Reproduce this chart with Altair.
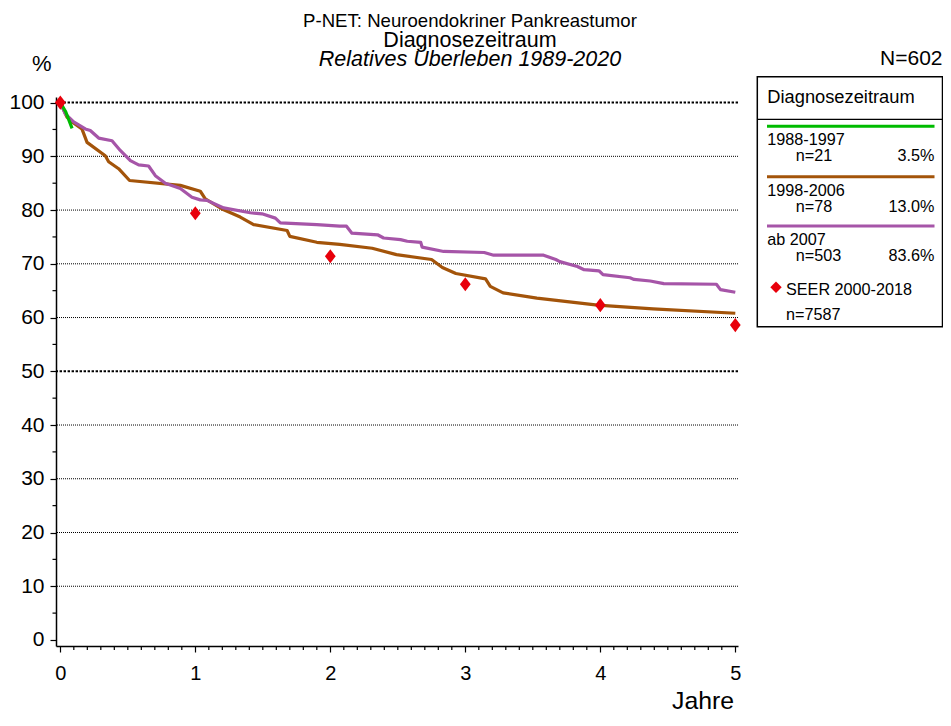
import altair as alt
import pandas as pd

FONT = "Liberation Sans"

# ---- data -------------------------------------------------------------
grp1_t = [0.0, 0.04, 0.087]
grp1_v = [100.0, 98.3, 95.2]

grp2_t = [0.0, 0.049, 0.087, 0.16, 0.198, 0.333, 0.358, 0.432, 0.513, 0.889,
          1.037, 1.074, 1.198, 1.333, 1.432, 1.68, 1.70, 1.90, 2.07, 2.31,
          2.49, 2.75, 2.83, 2.93, 3.15, 3.185, 3.28, 3.53, 3.98, 4.39, 5.0]
grp2_v = [100.0, 97.3, 96.4, 95.1, 92.6, 90.1, 89.0, 87.7, 85.5, 84.6,
          83.5, 82.1, 80.2, 78.7, 77.3, 76.2, 75.1, 74.0, 73.6, 72.9,
          71.7, 70.8, 69.3, 68.2, 67.2, 65.8, 64.6, 63.6, 62.3, 61.6, 60.8]

grp3_t = [0.0, 0.037, 0.099, 0.185, 0.222, 0.284, 0.383, 0.444, 0.519, 0.58,
          0.654, 0.704, 0.778, 0.889, 0.975, 1.037, 1.087, 1.21, 1.407, 1.494,
          1.593, 1.63, 1.90, 2.07, 2.12, 2.16, 2.35, 2.395, 2.52, 2.57,
          2.67, 2.68, 2.84, 3.14, 3.21, 3.58, 3.67, 3.70, 3.83, 3.88,
          3.99, 4.02, 4.22, 4.25, 4.37, 4.47, 4.86, 4.89, 5.0]
grp3_v = [100.0, 97.9, 96.4, 95.1, 94.8, 93.4, 92.9, 91.1, 89.2, 88.4,
          88.2, 86.4, 85.0, 84.0, 82.4, 81.9, 81.8, 80.4, 79.5, 79.3,
          78.5, 77.6, 77.3, 77.0, 77.0, 75.7, 75.4, 74.8, 74.5, 74.2,
          74.0, 73.1, 72.3, 72.1, 71.6, 71.6, 70.8, 70.4, 69.5, 68.9,
          68.7, 68.0, 67.4, 67.1, 66.8, 66.3, 66.2, 65.2, 64.7]

seer_t = [0, 1, 2, 3, 4, 5]
seer_v = [100.0, 79.4, 71.4, 66.2, 62.3, 58.6]

groups = ["1988-1997", "1998-2006", "ab 2007"]
group_n = ["n=21", "n=78", "n=503"]
group_pct = ["3.5%", "13.0%", "83.6%"]
colors = ["#00bb00", "#a3540a", "#a655a8"]

grid_thin = [10, 20, 30, 40, 60, 70, 80, 90]
grid_bold = [50, 100]
y_major = [0, 10, 20, 30, 40, 50, 60, 70, 80, 90, 100]
y_minor = [5, 15, 25, 35, 45, 55, 65, 75, 85, 95]
x_major = [0, 1, 2, 3, 4, 5]
x_minor = [i / 10 for i in range(0, 51) if i % 10 != 0]

# ---- scales / axes ----------------------------------------------------
W, H = 682, 549
xscale = alt.Scale(domain=[-0.032, 5.02], nice=False, zero=False)
yscale = alt.Scale(domain=[-1.12, 101.04], nice=False, zero=False)

xaxis = alt.Axis(values=x_major, title=None, grid=False, tickSize=6,
                 labelPadding=11, labelFontSize=20, labelFont=FONT,
                 labelColor="black", tickColor="black", domainColor="black",
                 domainWidth=1.5, tickWidth=1.2, labelFlush=False, format="d")
yaxis = alt.Axis(values=y_major, title=None, grid=False, tickSize=6,
                 labelPadding=6, labelFontSize=21, labelFont=FONT,
                 labelColor="black", tickColor="black", domainColor="black",
                 domainWidth=1.5, tickWidth=1.2, format="d")

X = alt.X("t:Q", scale=xscale, axis=xaxis)
Y = alt.Y("v:Q", scale=yscale, axis=yaxis)

one = alt.Data(values=[{"a": 1}])

# ---- layers -----------------------------------------------------------
grid1 = alt.Chart(pd.DataFrame({"v": grid_thin})).mark_rule(
    color="black", strokeWidth=1, strokeDash=[1, 1]).encode(y=Y)
grid2 = alt.Chart(pd.DataFrame({"v": grid_bold})).mark_rule(
    color="black", strokeWidth=2, strokeDash=[2.4, 1.6]).encode(y=Y)

ymin = alt.Chart(pd.DataFrame({"v": y_minor})).mark_rule(
    color="black", strokeWidth=1.2).encode(
    y=Y, x=alt.value(-3.5), x2=alt.value(0))
xmin = alt.Chart(pd.DataFrame({"t": x_minor})).mark_rule(
    color="black", strokeWidth=1.2).encode(
    x=X, y=alt.value(H), y2=alt.value(H + 4))


def series(ts, vs, color):
    df = pd.DataFrame({"t": ts, "v": vs})
    return alt.Chart(df).mark_line(color=color, strokeWidth=3.2,
                                   strokeJoin="round").encode(x=X, y=Y)


l2 = series(grp2_t, grp2_v, colors[1])
l3 = series(grp3_t, grp3_v, colors[2])
l1 = series(grp1_t, grp1_v, colors[0])

DIAMOND = "M0,-1L0.76,0L0,1L-0.76,0Z"
seer = alt.Chart(pd.DataFrame({"t": seer_t, "v": seer_v})).mark_point(
    shape=DIAMOND, size=200, filled=True, fill="#e8000b", opacity=1,
    strokeWidth=0).encode(x=X, y=Y)


def txt(s, x, y, size, align="left", style=None):
    kw = dict(align=align, baseline="alphabetic", fontSize=size, font=FONT,
              color="black")
    if style:
        kw["fontStyle"] = style
    return alt.Chart(one).mark_text(**kw).encode(
        x=alt.value(x), y=alt.value(y), text=alt.value(s))


BOX_R = 886.5   # right edge of legend box (plot coords)

titles = [
    txt("P-NET: Neuroendokriner Pankreastumor", 414, -70.5, 18.6, "center"),
    txt("Diagnosezeitraum", 414, -49.7, 21.5, "center"),
    txt("Relatives Überleben 1989-2020", 414, -31.3, 21.5, "center", "italic"),
    txt("%", -14.3, -26.3, 22, "center"),
    txt("N=602", BOX_R, -32, 21, "right"),
    txt("Jahre", 647, 611.5, 24.8, "center"),
]

# legend box
box = alt.Chart(one).mark_rect(fill="white", stroke="black",
                               strokeWidth=1.5).encode(
    x=alt.value(701.3), x2=alt.value(BOX_R), y=alt.value(-20.3),
    y2=alt.value(229.7))
sep = alt.Chart(one).mark_rule(color="black", strokeWidth=1.2).encode(
    x=alt.value(701.3), x2=alt.value(BOX_R), y=alt.value(22.3))

leg = [box, sep, txt("Diagnosezeitraum", 711.3, 5.7, 18.3)]
line_y = [29.3, 79.7, 129.0]
for i in range(3):
    ly = line_y[i]
    leg.append(alt.Chart(one).mark_rule(color=colors[i], strokeWidth=3).encode(
        x=alt.value(711), x2=alt.value(BOX_R - 8), y=alt.value(ly)))
    leg.append(txt(groups[i], 711.3, ly + 19, 16.2))
    leg.append(txt(group_n[i], 739.7, ly + 35, 16.2))
    leg.append(txt(group_pct[i], BOX_R - 8, ly + 35, 16.2, "right"))

leg.append(alt.Chart(one).mark_point(shape="diamond", size=130, filled=True,
                                     fill="#e8000b", opacity=1,
                                     strokeWidth=0).encode(
    x=alt.value(720), y=alt.value(190.3)))
leg.append(txt("SEER 2000-2018", 730, 198, 16.2))
leg.append(txt("n=7587", 730, 223, 16.2))

chart = alt.layer(grid1, grid2, ymin, xmin, l2, l3, l1, seer, *titles, *leg
                  ).properties(
    width=W, height=H,
    autosize=alt.AutoSizeParams(type="none"),
    padding={"left": 48, "top": 89, "right": 205, "bottom": 66},
    background="white",
).configure_view(stroke=None)

chart.save("out.html", embed_options={"renderer": "svg", "actions": False})
